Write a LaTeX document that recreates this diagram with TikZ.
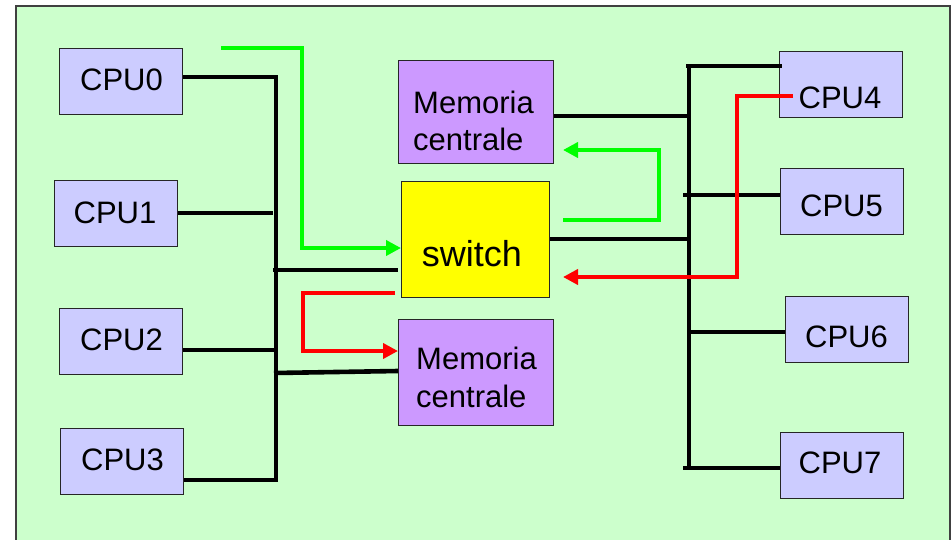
\documentclass[tikz,border=0pt]{standalone}
\usepackage{fontspec}
\setmainfont{Liberation Sans}
\usetikzlibrary{arrows.meta}
\definecolor{bg}{HTML}{CCFFCC}
\definecolor{cpucol}{HTML}{CCCCFF}
\definecolor{memcol}{HTML}{CC99FF}
\definecolor{swcol}{HTML}{FFFF00}
\definecolor{grn}{HTML}{00FF00}
\definecolor{rd}{HTML}{FF0000}
\tikzset{
  box/.style={draw=black!85, line width=1.4pt, inner sep=0pt, anchor=north west},
  cpubox/.style={box, fill=cpucol, minimum width=123pt, minimum height=66pt},
  membox/.style={box, fill=memcol, minimum width=155pt},
  swbox/.style={box, fill=swcol, minimum width=148pt, minimum height=116pt},
  lbl/.style={inner sep=0pt, font=\fontsize{31}{37}\selectfont},
  bus/.style={draw=black, line width=4.6pt, line join=miter, line cap=rect},
  link/.style={draw=black, line width=4.6pt},
  flow/.style={line width=4.2pt, line join=miter, -{Triangle[length=15pt,width=15pt]}},
}
\begin{document}
\begin{tikzpicture}[x=1pt,y=-1pt]
\useasboundingbox (0,0) rectangle (951,539);
\fill[white] (0,0) rectangle (951,539);
\begin{scope}
\clip (0,0) rectangle (951,539);
\draw[fill=bg, draw=black!75, line width=1.2pt] (16,6) rectangle (950,560);
\end{scope}

% CPU boxes
\node[cpubox] (cpu0) at (59,48) {};
\node[cpubox] (cpu1) at (54,180) {};
\node[cpubox] (cpu2) at (59,308) {};
\node[cpubox] (cpu3) at (60,428) {};
\node[cpubox] (cpu4) at (779,51) {};
\node[cpubox] (cpu5) at (780,168) {};
\node[cpubox] (cpu6) at (785,296) {};
\node[cpubox] (cpu7) at (780,432) {};

% memories and switch
\node[membox, minimum height=103pt] (mem1) at (398,60) {};
\node[membox, minimum height=106pt] (mem2) at (398,319) {};
\node[swbox] (sw) at (401,181) {};

% left bus
\coordinate (lt) at (276,77);
\coordinate (lb) at (276,480);
\draw[bus, line cap=butt] (cpu0.east |- lt) -- (lt) -- (lb) -- (cpu3.east |- lb);
\draw[link] (cpu1.east |- 0,213) -- (273,213);
\draw[link] (cpu2.east |- 0,350) -- (276,350);
\draw[link] (273,270) -- (398,270);
\draw[link] (274,373) -- (mem2.west |- 0,371);

% right bus
\coordinate (rt) at (689,66);
\coordinate (rb) at (689,467);
\draw[bus, line cap=butt] (rt) -- (rb);
\draw[link] (686,66) -- (782,66);
\draw[link] (mem1.east |- 0,116) -- (691,116);
\draw[link] (sw.east |- 0,239) -- (689,239);
\draw[link] (683,195) -- (cpu5.west |- 0,195);
\draw[link] (689,332) -- (cpu6.west |- 0,332);
\draw[link] (683,468) -- (cpu7.west |- 0,468);

% green flows
\coordinate (g1s) at (221,48);
\draw[flow, grn] (g1s) -- (302,48) -- (302,248) -- (sw.west |- 0,248);
\coordinate (g2s) at (563,220);
\draw[flow, grn] (g2s) -- (659,220) -- (659,150) -- (563,150);

% red flows
\coordinate (r1s) at (793,96);
\draw[flow, rd] (r1s) -- (737,96) -- (737,277) -- (563,277);
\coordinate (r2s) at (395,293);
\draw[flow, rd] (r2s) -- (303,293) -- (303,351) -- (mem2.west |- 0,351);

% labels
\node[lbl, anchor=base] at (121.5,90) {CPU0};
\node[lbl, anchor=base] at (115,223) {CPU1};
\node[lbl, anchor=base] at (121.5,350) {CPU2};
\node[lbl, anchor=base] at (122.5,470) {CPU3};
\node[lbl, anchor=base] at (840,108) {CPU4};
\node[lbl, anchor=base] at (841.5,216) {CPU5};
\node[lbl, anchor=base] at (846.5,347) {CPU6};
\node[lbl, anchor=base] at (840,473) {CPU7};
\node[lbl, anchor=base west] at (413,113) {Memoria};
\node[lbl, anchor=base west] at (413,150) {centrale};
\node[lbl, anchor=base west] at (416,369) {Memoria};
\node[lbl, anchor=base west] at (416,407) {centrale};
\node[lbl, anchor=base, font=\fontsize{36}{42}\selectfont] at (472,266) {switch};
\end{tikzpicture}
\end{document}
